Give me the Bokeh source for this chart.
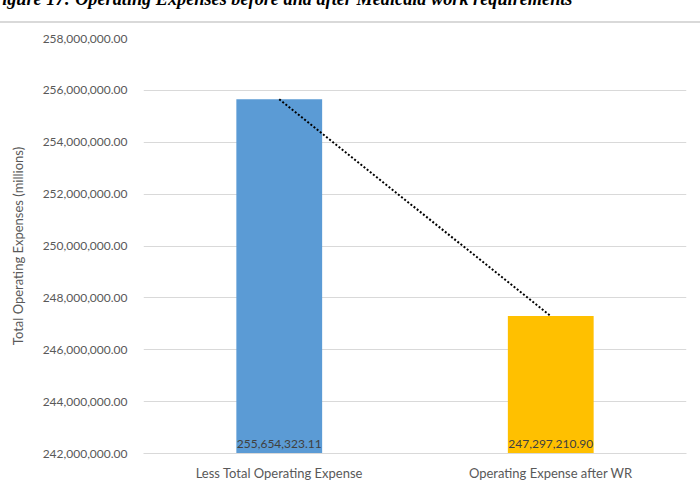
from bokeh.plotting import figure
from bokeh.models import (Range1d, FactorRange, FixedTicker, NumeralTickFormatter,
                          ColumnDataSource, Div)
from bokeh.layouts import column
from bokeh.core.properties import value
from bokeh.embed import file_html
from bokeh.resources import INLINE

# ---- data ----
categories = ["Less Total Operating Expense", "Operating Expense after WR"]
expenses = [255654323.11, 247297210.90]
bar_colors = ["#5B9BD5", "#FFC000"]
y_ticks = [242e6, 244e6, 246e6, 248e6, 250e6, 252e6, 254e6, 256e6, 258e6]
title_text = "Figure 17: Operating Expenses before and after Medicaid work requirements"
y_title = "Total Operating Expenses (millions)"

FONT = "Lato"
TXT = "#595959"
GRID = "#D9D9D9"
W, H = 700, 483
HEAD = 24

# ---- cropped caption strip with separator line ----
head_html = (
    '<div style="position:relative; top:-10px; left:-10px; height:18px; line-height:18px; '
    'white-space:nowrap; font-family:\'Liberation Serif\'; font-weight:bold; font-style:italic; '
    'font-size:18.25px; color:#000000;">' + title_text + '</div>'
    '<div style="position:relative; top:3px; height:1.5px; width:700px; '
    'background:' + GRID + ';"></div>'
)
head = Div(text=head_html, width=W, height=HEAD, margin=0,
           styles={"overflow": "visible", "padding": "0", "margin": "0"})

# ---- main chart ----
labels = ["{:,.2f}".format(v) for v in expenses]
src = ColumnDataSource(dict(cat=categories, val=expenses, color=bar_colors,
                            label=labels, base=[y_ticks[0]] * len(categories)))

p = figure(width=W, height=H - HEAD, x_range=FactorRange(*categories),
           y_range=Range1d(y_ticks[0], y_ticks[-1]),
           output_backend="svg", toolbar_location=None,
           min_border_left=143, min_border_right=14, min_border_top=38 - HEAD,
           min_border_bottom=26)
p.outline_line_color = None
p.background_fill_color = "white"

p.vbar(x="cat", top="val", bottom="base", width=0.316, fill_color="color",
       line_color=None, source=src)
p.line(x=categories, y=expenses, line_color="black", line_width=2, line_dash="2 2")
p.text(x="cat", y="base", text="label", source=src, text_align="center",
       text_baseline="bottom", y_offset=-6, text_font=value(FONT),
       text_font_size="12px", text_color="#404040")

p.xgrid.grid_line_color = None
p.ygrid.grid_line_color = GRID
p.ygrid.grid_line_width = 1

p.yaxis.ticker = FixedTicker(ticks=y_ticks)
p.yaxis.formatter = NumeralTickFormatter(format="0,0.00")
p.yaxis.axis_line_color = None
p.yaxis.major_label_standoff = 16
p.yaxis.axis_label = y_title
p.yaxis.axis_label_standoff = 14
p.yaxis.axis_label_text_font_style = "normal"

p.xaxis.axis_line_color = GRID
p.xaxis.major_label_standoff = 11

for ax in (p.xaxis, p.yaxis):
    ax.major_tick_line_color = None
    ax.minor_tick_line_color = None
    ax.major_tick_out = 0
    ax.major_tick_in = 0
    ax.minor_tick_out = 0
    ax.minor_tick_in = 0
    ax.major_label_text_font = FONT
    ax.major_label_text_color = TXT
    ax.axis_label_text_font = FONT
    ax.axis_label_text_color = TXT
    ax.axis_label_text_font_size = "13px"
p.yaxis.major_label_text_font_size = "12px"
p.xaxis.major_label_text_font_size = "13px"

layout = column(head, p, spacing=0)
open("out.html", "w").write(file_html(layout, INLINE))
